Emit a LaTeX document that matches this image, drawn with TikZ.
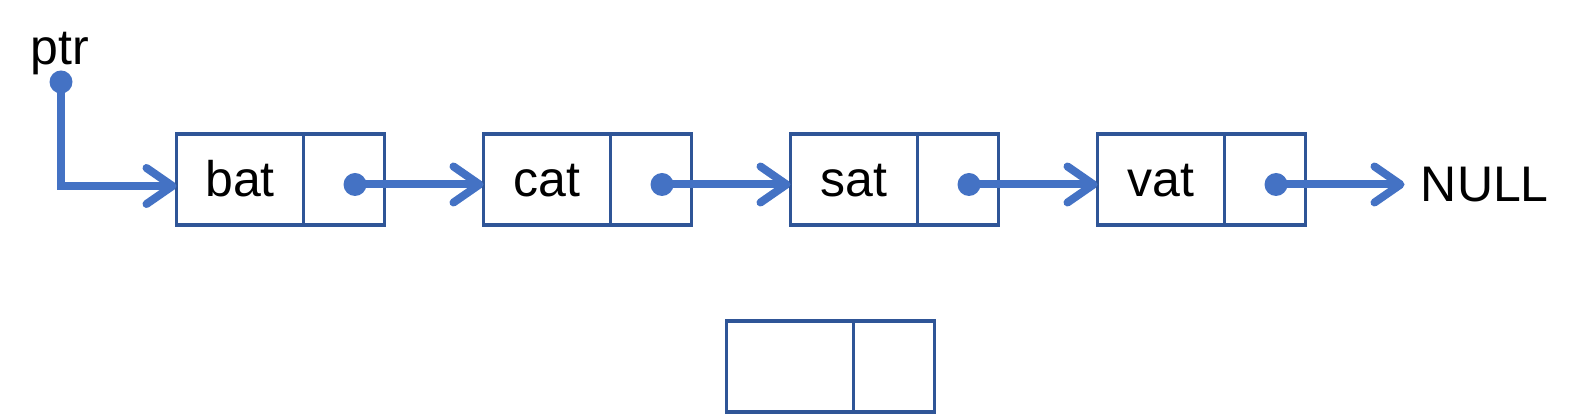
\documentclass[tikz,border=0pt]{standalone}
\usepackage{fontspec}
\setmainfont{Liberation Sans}
\usepackage{xcolor}
\usepackage{tikz}
\usetikzlibrary{arrows.meta,positioning}

\definecolor{boxblue}{HTML}{2F5597}
\definecolor{linkblue}{HTML}{4472C4}

\begin{document}
\begin{tikzpicture}[
    node distance=49.5pt,
    txt/.style={font=\fontsize{25}{30}\selectfont},
    data/.style={draw=boxblue, line width=1.7pt, outer sep=0pt, minimum width=63.5pt, minimum height=45.5pt, inner sep=0pt, text height=17.5pt, text depth=0pt, txt},
    link/.style={draw=boxblue, line width=1.7pt, outer sep=0pt, minimum width=40.5pt, minimum height=45.5pt, inner sep=0pt},
    dot/.style={circle, fill=linkblue, inner sep=0pt, minimum size=11.5pt},
    arrow/.style={-{Straight Barb[length=13pt,width=18pt,round]}, line width=4pt, linkblue, line cap=round}
  ]
    \useasboundingbox (0,0) rectangle (791pt,-207.5pt);

    \node[txt] (ptr) at (30pt,-27pt) {ptr};
    \node[dot] (ptrdot) at (30.5pt,-41pt) {};

    \node[data] (bat) at (120pt,-89.75pt) {bat};
    \node[link, right=0pt of bat] (batnext) {};
    \node[data, right=of batnext] (cat) {cat};
    \node[link, right=0pt of cat] (catnext) {};
    \node[data, right=of catnext] (sat) {sat};
    \node[link, right=0pt of sat] (satnext) {};
    \node[data, right=of satnext] (vat) {vat};
    \node[link, right=0pt of vat] (vatnext) {};
    \node[txt, right=of vatnext, yshift=-2.75pt, inner xsep=8pt, inner ysep=0pt, anchor=west] (null) {NULL};

    % spare cell
    \node[data] (spare) at (395pt,-183.25pt) {};
    \node[link, right=0pt of spare] (sparenext) {};

    \node[dot] (batdot) at ([xshift=5.5pt,yshift=-2.5pt]batnext.center) {};
    \node[dot] (catdot) at ([xshift=5.5pt,yshift=-2.5pt]catnext.center) {};
    \node[dot] (satdot) at ([xshift=5.5pt,yshift=-2.5pt]satnext.center) {};
    \node[dot] (vatdot) at ([xshift=5.5pt,yshift=-2.5pt]vatnext.center) {};

    \draw[arrow] (ptrdot.center) |- ([yshift=-3.25pt]bat.west);
    \draw[arrow] (batdot.center) -- (batdot.center -| cat.west);
    \draw[arrow] (catdot.center) -- (catdot.center -| sat.west);
    \draw[arrow] (satdot.center) -- (satdot.center -| vat.west);
    \draw[arrow] (vatdot.center) -- (vatdot.center -| null.west);
  \end{tikzpicture}
\end{document}
